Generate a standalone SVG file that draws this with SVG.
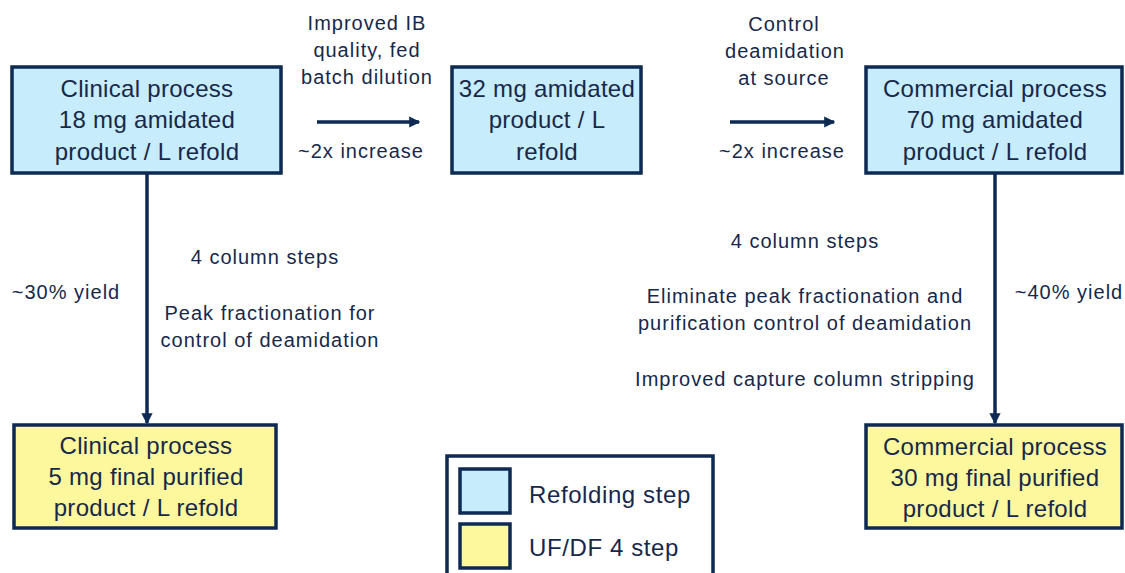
<svg xmlns="http://www.w3.org/2000/svg" width="1125" height="573" viewBox="0 0 1125 573">
<style>
.box{stroke:#0e2a52;stroke-width:3.5}
.blue{fill:#c7ecfb}
.yellow{fill:#fdf79e}
.bt{font-family:"Liberation Sans",Arial,sans-serif;font-size:24px;letter-spacing:0.3px;fill:#17284a;text-anchor:middle}
.at{font-family:"Liberation Sans",Arial,sans-serif;font-size:20px;letter-spacing:1px;fill:#17284a;text-anchor:middle}
.conn{stroke:#0e2a52;stroke-width:3.5;fill:none}
</style>
<defs>
<marker id="ah" markerWidth="3.2" markerHeight="3.2" refX="2.8" refY="1.6" orient="auto" markerUnits="strokeWidth">
<path d="M0,0 L3.2,1.6 L0,3.2 Z" fill="#0e2a52"/>
</marker>
</defs>
<rect width="1125" height="573" fill="#ffffff"/>
<g id="connectors">
<line class="conn" x1="147" y1="174" x2="147" y2="423" marker-end="url(#ah)"/>
<line class="conn" x1="995" y1="174" x2="995" y2="423" marker-end="url(#ah)"/>
<line class="conn" x1="317" y1="122" x2="419" y2="122" marker-end="url(#ah)"/>
<line class="conn" x1="730" y1="122" x2="834" y2="122" marker-end="url(#ah)"/>
</g>
<g id="node-clinical-refold">
<rect class="box blue" x="12" y="67" width="269" height="106"/>
<text class="bt" x="147" y="97">Clinical process</text>
<text class="bt" x="147" y="128">18 mg amidated</text>
<text class="bt" x="147" y="160">product / L refold</text>
</g>
<g id="node-32mg">
<rect class="box blue" x="452" y="67" width="189" height="106"/>
<text class="bt" x="547" y="97">32 mg amidated</text>
<text class="bt" x="547" y="128">product / L</text>
<text class="bt" x="547" y="160">refold</text>
</g>
<g id="node-commercial-refold">
<rect class="box blue" x="866" y="67" width="256" height="106"/>
<text class="bt" x="995" y="97">Commercial process</text>
<text class="bt" x="995" y="128">70 mg amidated</text>
<text class="bt" x="995" y="160">product / L refold</text>
</g>
<g id="node-clinical-final">
<rect class="box yellow" x="14" y="425" width="262" height="103"/>
<text class="bt" x="146" y="454">Clinical process</text>
<text class="bt" x="146" y="485">5 mg final purified</text>
<text class="bt" x="146" y="516">product / L refold</text>
</g>
<g id="node-commercial-final">
<rect class="box yellow" x="866" y="425" width="256" height="103"/>
<text class="bt" x="995" y="455">Commercial process</text>
<text class="bt" x="995" y="486">30 mg final purified</text>
<text class="bt" x="995" y="517">product / L refold</text>
</g>
<g id="labels">
<text class="at" x="367" y="30">Improved IB</text>
<text class="at" x="367" y="57">quality, fed</text>
<text class="at" x="367" y="84">batch dilution</text>
<text class="at" x="361" y="158">~2x increase</text>
<text class="at" x="784" y="31">Control</text>
<text class="at" x="785" y="58">deamidation</text>
<text class="at" x="784" y="85">at source</text>
<text class="at" x="782" y="158">~2x increase</text>
<text class="at" x="265" y="264">4 column steps</text>
<text class="at" x="66" y="299">~30% yield</text>
<text class="at" x="270" y="320">Peak fractionation for</text>
<text class="at" x="270" y="347">control of deamidation</text>
<text class="at" x="805" y="248">4 column steps</text>
<text class="at" x="805" y="303">Eliminate peak fractionation and</text>
<text class="at" x="805" y="330">purification control of deamidation</text>
<text class="at" x="805" y="386">Improved capture column stripping</text>
<text class="at" x="1069" y="299">~40% yield</text>
</g>
<g id="legend">
<rect x="447" y="456" width="266" height="130" fill="#ffffff" stroke="#0e2a52" stroke-width="3.5"/>
<rect class="box blue" x="460" y="469" width="50" height="44"/>
<rect class="box yellow" x="460" y="524" width="50" height="44"/>
<text x="529" y="503" font-family="Liberation Sans, Arial, sans-serif" font-size="24" letter-spacing="0.6" fill="#17284a">Refolding step</text>
<text x="529" y="556" font-family="Liberation Sans, Arial, sans-serif" font-size="24" letter-spacing="0.6" fill="#17284a">UF/DF 4 step</text>
</g>
</svg>
